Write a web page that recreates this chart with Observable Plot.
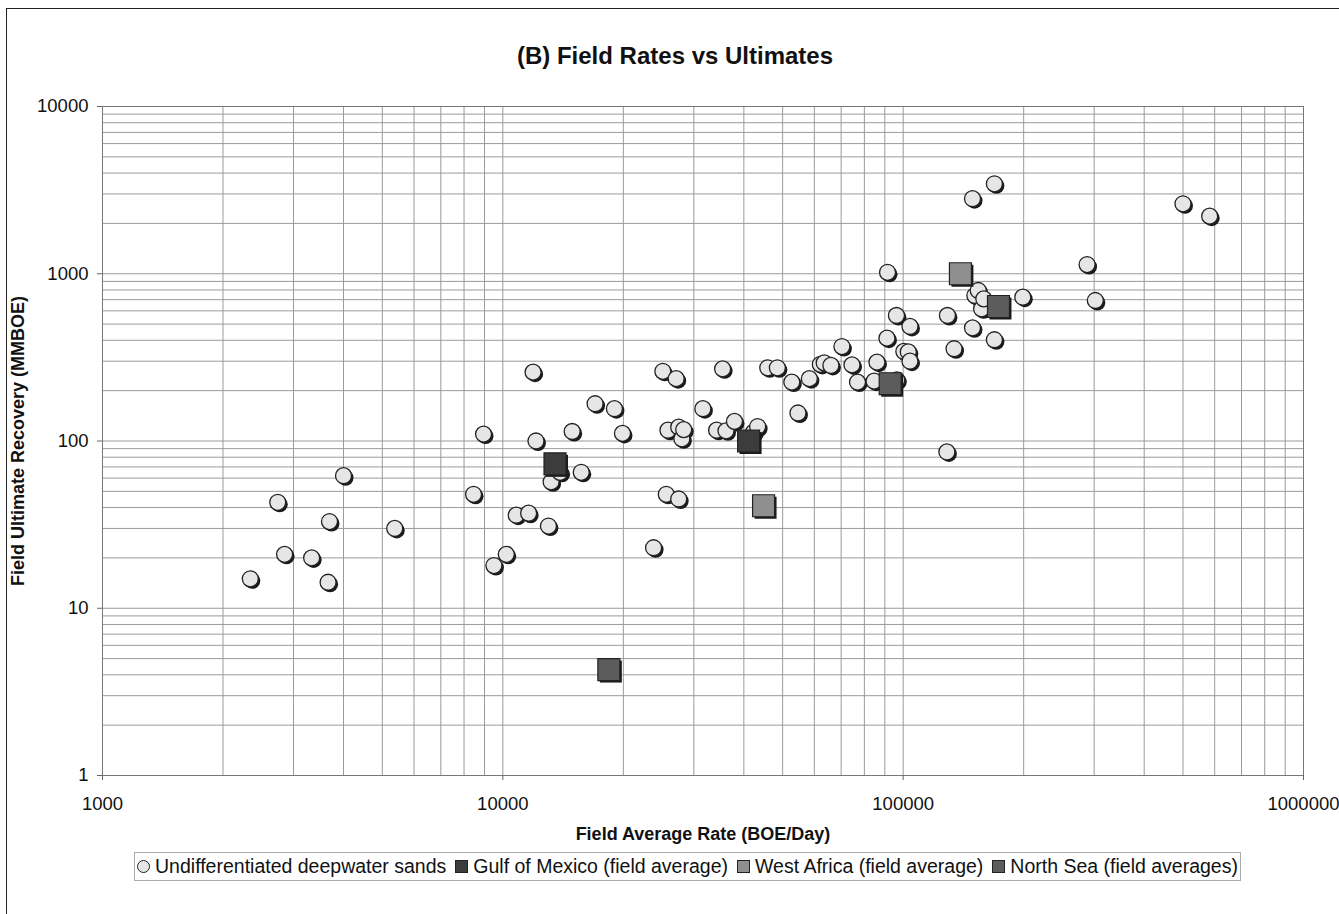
<!DOCTYPE html>
<html><head><meta charset="utf-8">
<script src="https://cdn.jsdelivr.net/npm/d3@7"></script>
<script src="https://cdn.jsdelivr.net/npm/@observablehq/plot@0.6"></script>
<style>
body{margin:0;background:#fff;overflow:hidden;font-family:"Liberation Sans",Arial,sans-serif;color:#111;}
#wrap{position:relative;width:1339px;height:914px;overflow:hidden;background:#fff;}
#frame{position:absolute;left:6px;top:8px;width:1400px;height:1000px;border:1.5px solid #222;}
#title{position:absolute;left:0;width:1350px;top:42px;text-align:center;font-weight:bold;font-size:24px;line-height:28px;}
#chart{position:absolute;left:0;top:0;}
#legend{position:absolute;left:134px;top:852px;width:1105px;height:27px;border:1px solid #aaa;display:flex;align-items:center;justify-content:center;font-size:19.5px;white-space:nowrap;}
.item{display:flex;align-items:center;margin-right:9px;}
.item:last-child{margin-right:0;}
.sw{display:inline-block;width:11px;height:11px;border:1px solid #222;margin-right:5px;}
.circ{border-radius:50%;}
</style></head>
<body><div id="wrap">
<div id="frame"></div>
<div id="title">(B) Field Rates vs Ultimates</div>
<div id="chart"></div>
<div id="legend"></div>
</div>
<script>
// Undifferentiated deepwater sands
const sandsRate = [2340,2740,2850,3330,3660,3690,4000,5370,8450,8950,9500,10200,10800,11600,11900,12100,13000,13200,13900,14900,15700,17000,19000,19900,23800,25100,25600,25850,27100,27500,27500,28000,28300,31600,34200,35400,36100,37900,42300,43300,45900,48500,52700,54600,58300,62100,63500,66000,70300,74500,76900,84600,86000,91100,91400,96200,96400,100400,103000,104000,104000,128600,129000,134000,149000,149000,151000,154000,157000,159000,169000,169000,199000,288000,302000,500000,583000];
const sandsUltimate = [15,43,21,20,14.3,33,62,30,48,110,18,21,36,37,258,100,31,57,65,114,65,167,156,111,23,261,48,116,236,121,45,103,117,156,116,270,115,131,113,122,274,274,225,147,236,287,293,283,367,285,225,228,296,412,1020,563,232,343,341,484,300,86,563,356,475,2810,741,794,617,708,403,3450,724,1135,692,2620,2210];
// Field averages
const gomRate = [13500,41100];
const gomUltimate = [73,100];
const waRate = [139000,44800];
const waUltimate = [1000,41];
const nsRate = [18400,92800,173000];
const nsUltimate = [4.3,220,637];
// Axis ticks
const xTicks = [1000,10000,100000,1000000];
const yTicks = [1,10,100,1000,10000];
const seriesNames = ["Undifferentiated deepwater sands","Gulf of Mexico (field average)","West Africa (field average)","North Sea (field averages)"];
const seriesFill = ["#e6e6e6","#3c3c3c","#8f8f8f","#5c5c5c"];

const xGrid = xTicks.slice(0,-1).flatMap(d => d3.range(1,10).map(k => d*k)).concat([1000000]);
const yGrid = yTicks.slice(0,-1).flatMap(d => d3.range(1,10).map(k => d*k)).concat([10000]);

function pts(xs, ys){ return xs.map((x,i)=>({x, y: ys[i]})); }
const sands = pts(sandsRate, sandsUltimate);
const gom = pts(gomRate, gomUltimate);
const wa = pts(waRate, waUltimate);
const ns = pts(nsRate, nsUltimate);

const R = 8, RS = 12.4;
function squares(data, fill){
  return [
    Plot.dot(data, {x:"x", y:"y", symbol:"square", r:RS, fill:"#1a1a1a", dx:2, dy:2}),
    Plot.dot(data, {x:"x", y:"y", symbol:"square", r:RS, fill, stroke:"#222", strokeWidth:1.2})
  ];
}

const chart = Plot.plot({
  width: 1339, height: 914,
  marginLeft: 102, marginRight: 36, marginTop: 106, marginBottom: 139,
  style: {fontFamily: '"Liberation Sans", Arial, sans-serif', fontSize: "18.5px", color: "#111", background: "transparent"},
  x: {type: "log", domain: [1000, 1000000], label: null},
  y: {type: "log", domain: [1, 10000], label: null},
  marks: [
    Plot.gridX(xGrid, {stroke: "#9a9a9a", strokeOpacity: 1}),
    Plot.gridY(yGrid, {stroke: "#9a9a9a", strokeOpacity: 1}),
    Plot.frame({stroke: "#777"}),
    Plot.axisX(xTicks, {tickSize: 5, tickPadding: 16, tickFormat: d => String(d), fontSize: 18.5, label: null, stroke: "#666"}),
    Plot.axisY(yTicks, {tickSize: 5, tickPadding: 9, tickFormat: d => String(d), fontSize: 18.5, label: null, stroke: "#666"}),
    Plot.text(["Field Average Rate (BOE/Day)"], {frameAnchor: "bottom", dy: 59, fontWeight: "bold", fontSize: 18, lineAnchor: "middle", textAnchor: "middle"}),
    Plot.text(["Field Ultimate Recovery (MMBOE)"], {frameAnchor: "left", dx: -84, rotate: -90, fontWeight: "bold", fontSize: 18, lineAnchor: "middle", textAnchor: "middle"}),
    Plot.dot(sands, {x:"x", y:"y", r:R, fill:"#1a1a1a", dx:2, dy:2}),
    Plot.dot(sands, {x:"x", y:"y", r:R, fill:seriesFill[0], stroke:"#222", strokeWidth:1.3}),
    ...squares(gom, seriesFill[1]),
    ...squares(wa, seriesFill[2]),
    ...squares(ns, seriesFill[3])
  ]
});
document.getElementById("chart").appendChild(chart);

const legend = document.getElementById("legend");
seriesNames.forEach((name, i) => {
  const it = document.createElement("span");
  it.className = "item";
  const sw = document.createElement("span");
  sw.className = "sw" + (i === 0 ? " circ" : "");
  sw.style.background = seriesFill[i];
  const tx = document.createElement("span");
  tx.textContent = name;
  it.appendChild(sw); it.appendChild(tx);
  legend.appendChild(it);
});
</script>
</body></html>
